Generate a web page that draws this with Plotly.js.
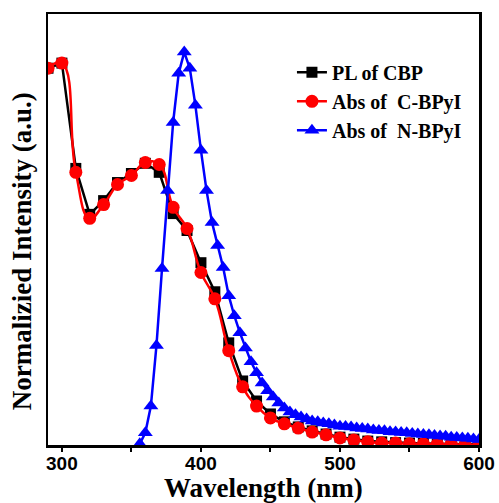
<!DOCTYPE html>
<html>
<head>
<meta charset="utf-8">
<script src="https://cdn.plot.ly/plotly-3.0.1.min.js"></script>
<style>html,body{margin:0;padding:0;background:#fff;}#chart{width:499px;height:503px;}</style>
</head>
<body>
<div id="chart"></div>
<script>
// PL of CBP and Abs of C-BPyI: wavelengths every 10 nm
const wlTen = [290,300,310,320,330,340,350,360,370,380,390,400,410,420,430,440,450,460,470,480,490,500,510,520,530,540,550,560,570,580,590,600];
const plCBP = [0.959,0.972,0.704,0.587,0.622,0.668,0.691,0.717,0.694,0.589,0.546,0.464,0.390,0.260,0.163,0.112,0.079,0.059,0.046,0.036,0.028,0.020,0.015,0.010,0.008,0.006,0.005,0.004,0.003,0.003,0.002,0.002];
const absCBPyI = [0.959,0.972,0.694,0.577,0.612,0.663,0.686,0.719,0.714,0.605,0.551,0.439,0.372,0.240,0.148,0.099,0.069,0.054,0.043,0.033,0.026,0.018,0.013,0.008,0.005,0.005,0.003,0.003,0.002,0.002,0.001,0.001];
// Abs of N-BPyI: wavelengths every 4 nm
const wlFour = [356,360,364,368,372,376,380,384,388,392,396,400,404,408,412,416,420,424,428,432,436,440,444,448,452,456,460,464,468,472,476,480,484,488,492,496,500,504,508,512,516,520,524,528,532,536,540,544,548,552,556,560,564,568,572,576,580,584,588,592,596,600];
const absNBPyI = [0.003,0.031,0.099,0.253,0.449,0.648,0.821,0.946,1.000,0.959,0.865,0.750,0.648,0.566,0.508,0.452,0.380,0.329,0.286,0.247,0.212,0.184,0.158,0.138,0.122,0.107,0.094,0.084,0.077,0.071,0.066,0.061,0.059,0.056,0.054,0.051,0.048,0.047,0.046,0.043,0.042,0.041,0.038,0.037,0.036,0.034,0.033,0.032,0.031,0.029,0.028,0.027,0.026,0.024,0.023,0.022,0.020,0.019,0.018,0.017,0.015,0.014];
const seriesNames = ['PL of CBP','Abs of  C-BPyI','Abs of  N-BPyI'];
const xTickVals = [300,400,500,600];
const xTickText = ['300','400','500','600'];
const xTitle = 'Wavelength (nm)';
const yTitle = 'Normalizied Intensity (a.u.)';

const serif = 'Liberation Serif, Times New Roman, serif';
const traces = [
  {x: wlTen, y: plCBP, name: seriesNames[0], mode: 'lines+markers',
   line: {color: '#000000', width: 2.5},
   marker: {symbol: 'square', size: 11, color: '#000000'}},
  {x: wlTen, y: absCBPyI, name: seriesNames[1], mode: 'lines+markers',
   line: {color: '#ff0000', width: 2.5, shape: 'spline', smoothing: 1.3},
   marker: {symbol: 'circle', size: 13, color: '#ff0000'}},
  {x: wlFour, y: absNBPyI, name: seriesNames[2], mode: 'lines+markers',
   line: {color: '#0000ff', width: 2.5},
   marker: {symbol: 'triangle-up', size: 13, color: '#0000ff'}}
];
const layout = {
  width: 499, height: 503,
  margin: {l: 48, r: 20, t: 14, b: 58},
  paper_bgcolor: '#ffffff', plot_bgcolor: '#ffffff',
  showlegend: true,
  legend: {x: 0.566, y: 0.91, xanchor: 'left', yanchor: 'top',
    font: {family: serif, size: 20, color: '#000', weight: 'bold'},
    bgcolor: 'rgba(0,0,0,0)', tracegroupgap: 0},
  xaxis: {range: [290, 600], showgrid: false, zeroline: false,
    showline: true, mirror: true, linecolor: '#000', linewidth: 2.5,
    tickmode: 'array', tickvals: xTickVals, ticktext: xTickText,
    ticks: 'outside', ticklen: 4, tickwidth: 2, tickcolor: '#000',
    ticklabelstandoff: -4,
    minor: {dtick: 50, tick0: 300, ticks: 'outside', ticklen: 4, tickwidth: 2, tickcolor: '#000'},
    tickfont: {family: 'Liberation Sans, Arial, sans-serif', size: 19, color: '#000', weight: 'bold'}},
  yaxis: {range: [0, 1.097], showgrid: false, zeroline: false,
    showline: true, mirror: true, linecolor: '#000', linewidth: 2.5,
    ticks: '', showticklabels: false},
  annotations: [
    {text: xTitle, xref: 'paper', yref: 'paper', x: 0.5, y: -0.1,
     xanchor: 'center', yanchor: 'middle', showarrow: false,
     font: {family: serif, size: 27, color: '#000', weight: 'bold'}},
    {text: yTitle, xref: 'paper', yref: 'paper', x: -0.06, y: 0.45,
     xanchor: 'center', yanchor: 'middle', showarrow: false, textangle: -90,
     font: {family: serif, size: 27, color: '#000', weight: 'bold'}}
  ]
};
Plotly.newPlot('chart', traces, layout, {displayModeBar: false, staticPlot: true});
</script>
</body>
</html>
